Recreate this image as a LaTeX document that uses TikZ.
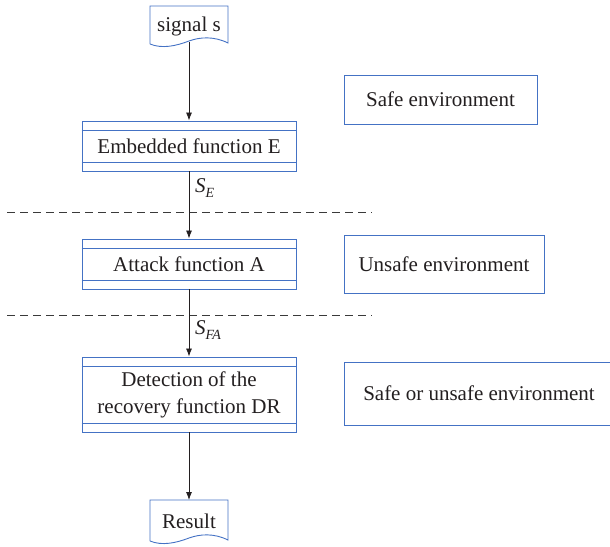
\documentclass[tikz,border=0pt]{standalone}
\usepackage{fontspec}
\setmainfont{Liberation Serif}
\usetikzlibrary{arrows.meta}
\definecolor{boxblue}{HTML}{4472C4}
\definecolor{ink}{HTML}{231F20}
\definecolor{sepgray}{HTML}{3A3A3A}
\newcommand{\sublabel}[2]{\textit{#1}\raisebox{-4.5pt}{\fontsize{14}{14}\selectfont\textit{#2}}}
\begin{document}
\begin{tikzpicture}[x=1pt,y=-1pt,
  font=\fontsize{21}{27}\selectfont,
  every node/.style={text=ink, inner sep=0pt},
  procbox/.style={draw=boxblue, line width=0.9pt, minimum width=214pt, align=center},
  envbox/.style={draw=boxblue, line width=0.9pt, align=center},
  flow/.style={draw=ink, line width=0.8pt, -{Latex[length=8pt,width=6pt]}},
  sep/.style={draw=sepgray, line width=0.8pt, dash pattern=on 8pt off 5pt},
  doc/.style={draw=boxblue, line width=0.9pt}]
\useasboundingbox (0,0) rectangle (610,546);
\clip (0,0) rectangle (610,546);

% input document shape
\draw[doc] (150,44) -- (150,6) -- (228,6) -- (228,43)
  .. controls (214,36) and (200,37) .. (189,41)
  .. controls (176,46) and (162,49) .. (150,44);
\node (signal) at (189,26) {signal s};
\coordinate (signalout) at (189,42);

% output document shape
\draw[doc] (150,541) -- (150,500) -- (228,500) -- (228,540)
  .. controls (214,533) and (200,534) .. (189,538)
  .. controls (176,543) and (162,546) .. (150,541);
\node (result) at (189,521) {Result};
\coordinate (resultin) at (189,500);

% processing blocks
\node[procbox, minimum height=50pt] (embed) at (189,146) {Embedded function E};
\node[procbox, minimum height=50pt] (attack) at (189,264) {Attack function A};
\node[procbox, minimum height=75pt] (detect) at (189,394.5) {Detection of the\\recovery function DR};

\foreach \b/\t/\d in {embed/10/9, attack/10/9, detect/10/9} {
  \draw[boxblue, line width=0.9pt] ([yshift=-\t pt]\b.north west) -- ([yshift=-\t pt]\b.north east);
  \draw[boxblue, line width=0.9pt] ([yshift=\d pt]\b.south west) -- ([yshift=\d pt]\b.south east);
}

% environment labels
\node[envbox, minimum width=193pt, minimum height=49pt] (safe) at (440.5,99.5) {Safe environment};
\node[envbox, minimum width=200pt, minimum height=58pt] (unsafe) at (444,264) {Unsafe environment};
\node[envbox, minimum width=270pt, minimum height=63pt] (either) at (479,393.5) {Safe or unsafe environment};

% trust boundaries
\draw[sep] (7,212) -- (372,212);
\draw[sep] (7,315) -- (372,315);

% signal flow
\draw[flow] (signalout) -- (embed.north);
\draw[flow] (embed.south) -- (attack.north);
\draw[flow] (attack.south) -- (detect.north);
\draw[flow] (detect.south) -- (resultin);

\node[anchor=west] (se) at (195,188) {\sublabel{S}{E}};
\node[anchor=west] (sfa) at (195,330) {\sublabel{S}{FA}};
\end{tikzpicture}
\end{document}
